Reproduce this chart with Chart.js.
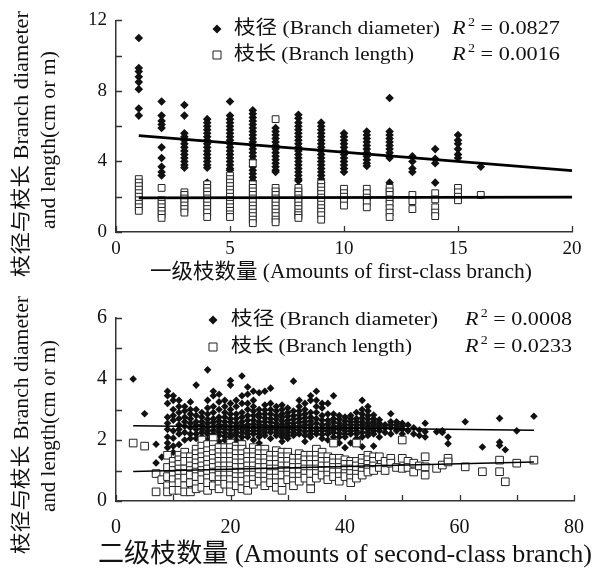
<!DOCTYPE html>
<html lang="zh">
<head>
    <meta charset="UTF-8">
    <title>Branch diameter and length</title>
    <script src="https://cdn.jsdelivr.net/npm/chart.js"></script>
    <style>
        body { margin: 0; background: #fff; }
        .panel { position: absolute; left: 0; }
    </style>
</head>
<body>
    <div class="panel" style="top:0"><canvas id="first" width="600" height="290"></canvas></div>
    <div class="panel" style="top:290px"><canvas id="second" width="600" height="285"></canvas></div>

    <script>
        // ---- first-class branches: one column of values per branch count
        const firstCount = [1, 2, 3, 4, 5, 6, 7, 8, 9, 10, 11, 12, 13, 14, 15, 16];
        const firstDiam = [
            [11.0, 9.3, 9.1, 8.8, 8.5, 8.1, 7.0, 6.6],
            [7.4, 6.6, 6.3, 6.1, 5.9, 4.8, 4.2, 3.7, 3.4, 3.2],
            [7.2, 6.6, 5.6, 5.4, 5.2, 5.0, 4.8, 4.6, 4.4, 4.2, 4.0, 3.8, 3.65],
            [6.4, 6.2, 6.0, 5.8, 5.6, 5.4, 5.2, 5.0, 4.8, 4.6, 4.4, 4.2, 4.0, 3.8, 3.65, 2.8],
            [7.4, 6.6, 6.4, 6.2, 6.0, 5.8, 5.6, 5.4, 5.2, 5.0, 4.8, 4.6, 4.4, 4.2, 4.0, 3.8, 3.6, 3.5],
            [6.9, 6.7, 6.5, 6.3, 6.1, 5.9, 5.7, 5.5, 5.3, 5.1, 4.9, 4.7, 4.5, 4.3, 4.1, 3.7, 3.5, 3.3, 3.1, 2.9],
            [5.9, 5.7, 5.5, 5.3, 5.1, 4.9, 4.7, 4.5, 4.3, 4.1, 3.9, 3.7, 3.5, 3.4],
            [6.65, 6.45, 6.2, 6.0, 5.8, 5.6, 5.4, 5.2, 5.0, 4.8, 4.6, 4.4, 4.2, 4.0, 3.8, 3.6, 3.4, 3.2, 3.0, 2.9],
            [6.2, 6.0, 5.8, 5.6, 5.4, 5.2, 5.0, 4.8, 4.6, 4.4, 4.2, 4.0, 3.8, 3.6, 3.4, 3.2, 3.0, 2.8],
            [5.6, 5.4, 5.2, 5.0, 4.8, 4.6, 4.4, 4.2, 4.0, 3.8, 3.6, 3.4],
            [5.7, 5.5, 5.3, 5.1, 4.9, 4.7, 4.5, 4.3, 4.1, 3.9, 3.75],
            [7.6, 5.7, 5.5, 5.3, 5.1, 4.9, 4.7, 4.5, 4.3, 4.2, 2.8],
            [4.3, 4.0, 3.6, 3.4],
            [4.7, 4.15, 3.9, 2.8],
            [5.5, 5.2, 5.0, 4.7, 4.4, 4.2],
            [3.7]
        ];
        const firstLen = [
            [3.0, 2.8, 2.6, 2.4, 2.2, 2.0, 1.8, 1.6, 1.4, 1.2],
            [2.5, 1.8, 1.6, 1.4, 1.2, 1.0, 0.8],
            [2.25, 2.1, 1.9, 1.7, 1.5, 1.3, 1.1],
            [2.7, 2.5, 2.3, 2.1, 1.9, 1.7, 1.5, 1.3, 1.1, 0.85],
            [3.2, 3.0, 2.8, 2.6, 2.4, 2.2, 2.0, 1.8, 1.6, 1.4, 1.2, 1.0, 0.85],
            [3.9, 2.7, 2.5, 2.3, 2.1, 1.9, 1.7, 1.5, 1.3, 1.1, 0.9, 0.7, 0.5],
            [6.4, 2.5, 2.3, 2.1, 1.9, 1.7, 1.5, 1.3, 1.1, 0.9, 0.7, 0.55],
            [2.5, 2.3, 2.1, 1.9, 1.7, 1.5, 1.3, 1.1, 0.95, 0.8],
            [2.75, 2.55, 2.35, 2.15, 1.95, 1.75, 1.55, 1.35, 1.15, 0.95, 0.7],
            [2.45, 2.2, 2.0, 1.75, 1.5],
            [2.45, 2.2, 1.95, 1.7, 1.4],
            [2.5, 2.3, 2.1, 1.85, 1.6, 1.35, 1.1, 0.85],
            [2.1, 1.75, 1.3],
            [2.2, 1.85, 1.4, 1.1, 0.9],
            [2.5, 2.25, 2.0, 1.8],
            [2.1]
        ];
        const firstTrendX = [1, 20];
        const firstDiamTrend = [5.46, 3.48];
        const firstLenTrend = [1.93, 1.98];
        const firstR2 = ['0.0827', '0.0016'];

        // ---- second-class branches
        const secondCount = [3, 5, 7, 8, 9, 10, 11, 12, 13, 14, 15, 16, 17, 18, 19, 20, 21, 22, 23, 24,
            25, 26, 27, 28, 29, 30, 31, 32, 33, 34, 35, 36, 37, 38, 39, 40, 41, 42, 43, 44, 45, 46, 47,
            48, 49, 50, 51, 52, 53, 54, 56, 57, 58, 61, 64, 67, 68, 70, 73];
        const secondDiam = [
            [4.0], [2.86], [1.86, 1.25], [1.44],
            [3.6, 3.45, 3.2, 2.75, 2.55, 2.35, 2.1, 1.9, 1.75],
            [3.45, 3.3, 3.0, 2.8, 2.65, 2.3, 2.06, 1.8, 1.6],
            [3.3, 3.1, 2.9, 2.7, 2.5, 2.35, 2.2, 1.85],
            [3.1, 2.95, 2.75, 2.6, 2.45, 2.25, 2.0],
            [3.25, 3.0, 2.85, 2.7, 2.55, 2.4, 2.2, 2.05],
            [3.8, 3.0, 2.8, 2.6, 2.48, 2.35, 2.2, 2.05],
            [2.9, 2.75, 2.6, 2.48, 2.36, 2.25, 2.1],
            [4.3, 3.3, 3.05, 2.85, 2.68, 2.55, 2.42, 2.3, 2.2, 2.0],
            [3.6, 3.45, 3.1, 2.9, 2.7, 2.58, 2.45, 2.32, 2.2, 2.1],
            [3.5, 3.25, 3.0, 2.75, 2.62, 2.5, 2.38, 2.26, 2.15, 1.95],
            [3.3, 3.1, 2.9, 2.75, 2.6, 2.48, 2.36, 2.24, 2.12, 2.0],
            [3.95, 3.8, 3.2, 3.0, 2.85, 2.7, 2.58, 2.45, 2.33, 2.2, 2.1, 1.9],
            [3.3, 3.1, 2.85, 2.7, 2.55, 2.45, 2.35, 2.25, 2.15, 2.0],
            [4.1, 3.45, 3.2, 2.9, 2.75, 2.6, 2.48, 2.36, 2.24, 2.1, 1.95],
            [3.74, 3.5, 3.2, 3.0, 2.8, 2.65, 2.5, 2.4, 2.3, 2.2, 2.1],
            [3.6, 3.3, 3.1, 2.95, 2.8, 2.65, 2.52, 2.4, 2.3, 2.2, 2.0],
            [3.55, 3.0, 2.85, 2.75, 2.6, 2.5, 2.4, 2.3, 2.2, 2.1, 1.9],
            [3.6, 3.15, 2.98, 2.85, 2.72, 2.6, 2.48, 2.35, 2.25, 2.15],
            [3.7, 3.2, 3.0, 2.85, 2.7, 2.58, 2.45, 2.35, 2.25, 2.05],
            [3.1, 2.95, 2.8, 2.68, 2.55, 2.45, 2.35, 2.25, 2.15],
            [3.15, 3.0, 2.85, 2.75, 2.62, 2.5, 2.4, 2.3, 2.2, 2.1, 1.95],
            [3.05, 2.9, 2.78, 2.65, 2.55, 2.45, 2.35, 2.25, 2.15, 2.05],
            [3.93, 2.95, 2.8, 2.68, 2.55, 2.45, 2.35, 2.25, 2.15],
            [3.3, 3.1, 2.95, 2.82, 2.7, 2.58, 2.45, 2.33, 2.2],
            [3.2, 3.0, 2.85, 2.72, 2.6, 2.5, 2.4, 2.28, 2.15, 1.95],
            [3.45, 3.3, 2.9, 2.75, 2.62, 2.5, 2.4, 2.3, 2.2, 2.1],
            [3.6, 3.3, 3.1, 2.9, 2.7, 2.55, 2.4, 2.3, 2.2],
            [3.2, 3.05, 2.8, 2.65, 2.5, 2.4, 2.3, 2.18, 2.05],
            [3.2, 2.85, 2.65, 2.52, 2.4, 2.3, 2.2, 2.0],
            [3.45, 2.85, 2.7, 2.58, 2.45, 2.35, 2.25, 2.1],
            [2.8, 2.68, 2.55, 2.45, 2.35, 2.22, 2.1, 1.9],
            [2.75, 2.62, 2.5, 2.4, 2.3, 2.2, 2.1, 1.75],
            [2.8, 2.7, 2.6, 2.5, 2.4, 2.3, 2.2, 1.9],
            [2.9, 2.7, 2.6, 2.5, 2.4, 2.3, 2.2, 2.05],
            [3.3, 3.0, 2.85, 2.72, 2.6, 2.5, 2.4, 2.25, 2.1, 1.78],
            [3.1, 2.95, 2.8, 2.68, 2.55, 2.45, 2.35, 2.25, 2.15],
            [2.82, 2.7, 2.6, 2.5, 2.4, 2.3, 2.2, 1.8],
            [2.66, 2.55, 2.45, 2.3, 2.1],
            [2.5, 2.4, 2.25],
            [2.86, 2.6, 2.5, 2.4, 2.2],
            [2.6, 2.5, 2.4, 2.3],
            [2.55, 2.45, 2.35, 2.2],
            [2.49, 2.3],
            [2.4, 2.2],
            [2.33, 2.15],
            [2.55, 2.27, 2.1],
            [2.27], [2.3, 2.25], [2.1, 1.88], [2.6], [1.77], [2.71, 1.93, 1.82], [1.68], [2.3], [2.78]
        ];
        const secondLen = [
            [1.9], [1.8], [0.9, 0.3], [0.7],
            [1.5, 1.1, 0.8, 0.5, 0.3],
            [1.3, 1.15, 1.0, 0.85, 0.7, 0.5, 0.35],
            [1.5, 1.35, 1.2, 1.05, 0.9, 0.75, 0.6, 0.35],
            [1.6, 1.45, 1.3, 1.05, 0.9, 0.75, 0.5, 0.3],
            [1.45, 1.3, 1.15, 1.0, 0.85, 0.6, 0.3],
            [1.7, 1.55, 1.4, 1.25, 1.1, 0.95, 0.8, 0.55, 0.4],
            [2.0, 1.8, 1.6, 1.45, 1.3, 1.15, 1.0, 0.85, 0.7, 0.45],
            [1.85, 1.65, 1.5, 1.35, 1.2, 1.05, 0.9, 0.75, 0.6, 0.35],
            [2.05, 1.85, 1.7, 1.55, 1.4, 1.25, 1.1, 0.95, 0.8, 0.5],
            [1.75, 1.6, 1.45, 1.3, 1.15, 1.0, 0.85, 0.7, 0.55, 0.4],
            [1.75, 1.6, 1.45, 1.3, 1.15, 1.0, 0.85, 0.7, 0.55],
            [1.9, 1.75, 1.6, 1.45, 1.3, 1.15, 1.0, 0.85, 0.7, 0.5, 0.3],
            [1.8, 1.7, 1.55, 1.4, 1.25, 1.1, 0.95, 0.8, 0.65, 0.5],
            [1.85, 1.7, 1.55, 1.4, 1.25, 1.1, 0.95, 0.8, 0.65, 0.4],
            [1.6, 1.45, 1.3, 1.15, 1.0, 0.85, 0.7, 0.5, 0.35],
            [1.75, 1.6, 1.45, 1.3, 1.15, 1.0, 0.85, 0.7, 0.55],
            [1.7, 1.55, 1.4, 1.25, 1.1, 0.95, 0.8, 0.65],
            [1.7, 1.55, 1.4, 1.25, 1.1, 0.95, 0.8, 0.65, 0.5],
            [1.5, 1.35, 1.2, 1.05, 0.9, 0.75, 0.6],
            [1.65, 1.5, 1.35, 1.2, 1.05, 0.9, 0.75, 0.6, 0.45],
            [1.6, 1.45, 1.3, 1.15, 1.0, 0.85, 0.6, 0.35],
            [1.6, 1.45, 1.3, 1.15, 1.0, 0.85, 0.7],
            [1.4, 1.25, 1.1, 0.95, 0.8, 0.65, 0.5],
            [1.55, 1.4, 1.25, 1.1, 0.95, 0.8, 0.65],
            [1.5, 1.35, 1.2, 1.05, 0.9, 0.75],
            [1.5, 1.35, 1.2, 1.05, 0.9, 0.65, 0.4],
            [1.7, 1.5, 1.35, 1.2, 1.05, 0.9, 0.75],
            [1.6, 1.45, 1.3, 1.15, 1.0, 0.85],
            [1.45, 1.3, 1.15, 1.0, 0.85, 0.7],
            [1.9, 1.4, 1.25, 1.1, 0.95, 0.8],
            [1.4, 1.25, 1.1, 0.95, 0.8, 0.65],
            [1.35, 1.2, 1.05, 0.9, 0.8],
            [1.3, 1.2, 1.05, 0.9, 0.75, 0.6],
            [1.9, 1.3, 1.15, 1.0, 0.88, 0.75],
            [1.4, 1.25, 1.1, 0.97, 0.85],
            [1.5, 1.35, 1.2, 1.07, 0.95],
            [1.45, 1.3, 1.15, 1.0],
            [1.45, 1.1],
            [1.3, 1.0],
            [1.4, 1.24],
            [1.1],
            [2.0, 1.4, 1.07],
            [1.3, 1.1],
            [1.24, 0.95],
            [1.15],
            [1.45, 1.12, 0.85],
            [1.07], [1.18], [1.4, 1.28], [1.12], [0.96], [1.34, 0.96], [0.63], [1.24], [1.34]
        ];
        const secondTrendX = [3, 73];
        const secondDiamTrend = [2.47, 2.32];
        const secondLenTrend = [0.97, 1.28];
        const secondR2 = ['0.0008', '0.0233'];

        const FONT = "'Liberation Serif', 'Noto Sans CJK SC', serif";
        const INK = '#111';

        function columns(xs, groups) {
            return xs.flatMap((x, i) => groups[i].map(y => ({ x: x, y: y })));
        }
        function trend(xs, ys) {
            return xs.map((x, i) => ({ x: x, y: ys[i] }));
        }

        // text squeezed/stretched along its direction to the wanted length
        function fitText(ctx, t) {
            ctx.save();
            ctx.font = t.size + 'px ' + FONT;
            const w = ctx.measureText(t.text).width;
            ctx.translate(t.x, t.y);
            ctx.rotate(t.rot || 0);
            ctx.scale(t.len / w, 1);
            ctx.textAlign = t.align || 'center';
            ctx.textBaseline = 'middle';
            ctx.fillStyle = INK;
            ctx.fillText(t.text, 0, 0);
            ctx.restore();
        }

        function drawR2(ctx, x, y, value, size, len) {
            const ital = 'italic ' + size + 'px ' + FONT;
            const sup = Math.round(size * 0.62) + 'px ' + FONT;
            const main = size + 'px ' + FONT;
            const rest = ' = ' + value;
            ctx.save();
            ctx.font = ital; const wR = ctx.measureText('R').width;
            ctx.font = sup; const w2 = ctx.measureText('2').width;
            ctx.font = main; const wRest = ctx.measureText(rest).width;
            ctx.translate(x, y);
            ctx.scale(len / (wR + 2 + w2 + wRest), 1);
            ctx.textAlign = 'left';
            ctx.textBaseline = 'middle';
            ctx.fillStyle = INK;
            ctx.font = ital; ctx.fillText('R', 0, 0);
            ctx.font = sup; ctx.fillText('2', wR + 2, -size * 0.3);
            ctx.font = main; ctx.fillText(rest, wR + 2 + w2, 0);
            ctx.restore();
        }

        function drawMarker(ctx, kind, x, y, r) {
            ctx.save();
            ctx.beginPath();
            if (kind === 'diamond') {
                ctx.moveTo(x, y - r); ctx.lineTo(x + r, y); ctx.lineTo(x, y + r); ctx.lineTo(x - r, y);
                ctx.closePath();
                ctx.fillStyle = INK; ctx.fill();
            } else {
                ctx.rect(x - r, y - r, 2 * r, 2 * r);
                ctx.fillStyle = '#fff'; ctx.fill();
                ctx.strokeStyle = '#222'; ctx.lineWidth = 1; ctx.stroke();
            }
            ctx.restore();
        }

        const paperText = {
            id: 'paperText',
            afterDraw(chart, args, opts) {
                const ctx = chart.ctx;
                (opts.items || []).forEach(t => fitText(ctx, t));
                (opts.legend || []).forEach(row => {
                    drawMarker(ctx, row.marker, row.mx, row.y, row.mr);
                    fitText(ctx, { text: row.text, x: row.tx, y: row.y, size: row.size, len: row.len, align: 'left' });
                    drawR2(ctx, row.rx, row.y, row.r2, row.size, row.rlen);
                });
            }
        };

        // tick marks pointing into the plot
        const inwardTicks = {
            id: 'inwardTicks',
            afterDraw(chart) {
                const { ctx, chartArea, scales } = chart;
                ctx.save();
                ctx.strokeStyle = '#333';
                ctx.lineWidth = 1.3;
                ctx.beginPath();
                scales.x.ticks.forEach(t => {
                    const px = Math.round(scales.x.getPixelForValue(t.value)) + 0.5;
                    ctx.moveTo(px, chartArea.bottom);
                    ctx.lineTo(px, chartArea.bottom - 6);
                });
                scales.y.ticks.forEach(t => {
                    const py = Math.round(scales.y.getPixelForValue(t.value)) + 0.5;
                    ctx.moveTo(chartArea.left, py);
                    ctx.lineTo(chartArea.left + 6, py);
                });
                ctx.stroke();
                ctx.restore();
            }
        };

        function axis(min, max, step, labelEvery, size, pad, fit) {
            return {
                type: 'linear',
                min: min,
                max: max,
                ticks: {
                    stepSize: step,
                    autoSkip: false,
                    maxRotation: 0,
                    padding: pad,
                    color: INK,
                    font: { family: FONT, size: size },
                    callback: v => (v % labelEvery === 0 ? v : '')
                },
                grid: { display: false, drawTicks: false, tickLength: 0 },
                border: { display: true, color: '#333', width: 1.5 },
                afterFit: fit
            };
        }

        function makeChart(id, cfg) {
            return new Chart(document.getElementById(id), {
                type: 'scatter',
                data: {
                    datasets: [
                        { type: 'line', data: cfg.diamTrend, borderColor: '#000', borderWidth: cfg.lineWidth, pointRadius: 0, order: 0 },
                        { type: 'line', data: cfg.lenTrend, borderColor: '#000', borderWidth: cfg.lineWidth, pointRadius: 0, order: 0 },
                        { data: cfg.len, pointStyle: 'rect', pointRadius: cfg.squareR, backgroundColor: '#fff', borderColor: '#222', borderWidth: 1, order: 1 },
                        { data: cfg.diam, pointStyle: 'rectRot', pointRadius: cfg.diamondR, backgroundColor: INK, borderColor: INK, borderWidth: 0, order: 2 }
                    ]
                },
                options: {
                    responsive: false,
                    animation: false,
                    devicePixelRatio: 1,
                    events: [],
                    layout: { padding: cfg.padding },
                    scales: { x: cfg.x, y: cfg.y },
                    plugins: {
                        legend: { display: false },
                        tooltip: { enabled: false },
                        paperText: { items: cfg.texts, legend: cfg.legend }
                    }
                },
                plugins: [inwardTicks, paperText]
            });
        }

        const yTitle1 = '枝径与枝长 Branch diameter';
        const yTitle2 = 'and length(cm or m)';

        makeChart('first', {
            diam: columns(firstCount, firstDiam),
            len: columns(firstCount, firstLen),
            diamTrend: trend(firstTrendX, firstDiamTrend),
            lenTrend: trend(firstTrendX, firstLenTrend),
            lineWidth: 2.8,
            diamondR: 4.3,
            squareR: 4.8,
            padding: { top: 18, right: 28, left: 0, bottom: 0 },
            x: axis(0, 20, 5, 5, 19, 6, s => { s.height = 58; }),
            y: axis(0, 12, 2, 4, 19, 9, s => { s.width = 116; }),
            texts: [
                { text: yTitle1, x: 23, y: 144, size: 20, len: 266, rot: -Math.PI / 2 },
                { text: yTitle2, x: 50, y: 140, size: 20, len: 178, rot: -Math.PI / 2 },
                { text: '一级枝数量 (Amounts of first-class branch)', x: 341, y: 272, size: 21, len: 382 }
            ],
            legend: [
                { marker: 'diamond', mx: 217, mr: 4.5, y: 29, tx: 234, text: '枝径 (Branch diameter)', len: 206, size: 19, rx: 452, rlen: 108, r2: firstR2[0] },
                { marker: 'square', mx: 217, mr: 4, y: 55, tx: 234, text: '枝长 (Branch length)', len: 180, size: 19, rx: 452, rlen: 108, r2: firstR2[1] }
            ]
        });

        makeChart('second', {
            diam: columns(secondCount, secondDiam),
            len: columns(secondCount, secondLen),
            diamTrend: trend(secondTrendX, secondDiamTrend),
            lenTrend: trend(secondTrendX, secondLenTrend),
            lineWidth: 1.5,
            diamondR: 3.8,
            squareR: 5.4,
            padding: { top: 28, right: 26, left: 0, bottom: 0 },
            x: axis(0, 80, 10, 20, 20, 15, s => { s.height = 74; }),
            y: axis(0, 6, 1, 2, 20, 9, s => { s.width = 116; }),
            texts: [
                { text: yTitle1, x: 23, y: 135, size: 20, len: 258, rot: -Math.PI / 2 },
                { text: yTitle2, x: 50, y: 136, size: 20, len: 172, rot: -Math.PI / 2 },
                { text: '二级枝数量 (Amounts of second-class branch)', x: 345, y: 265, size: 26, len: 494 }
            ],
            legend: [
                { marker: 'diamond', mx: 213, mr: 4.5, y: 30, tx: 231, text: '枝径 (Branch diameter)', len: 207, size: 19, rx: 465, rlen: 107, r2: secondR2[0] },
                { marker: 'square', mx: 213, mr: 4, y: 57, tx: 231, text: '枝长 (Branch length)', len: 181, size: 19, rx: 465, rlen: 107, r2: secondR2[1] }
            ]
        });
    </script>
</body>
</html>
